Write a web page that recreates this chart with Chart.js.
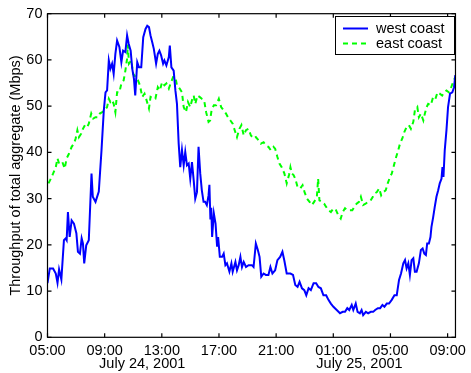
<!DOCTYPE html>
<html>
<head>
<meta charset="utf-8">
<script src="https://cdn.jsdelivr.net/npm/chart.js@4"></script>
<style>
  html, body { margin: 0; padding: 0; background: #fff; }
  #c { display: block; }
</style>
</head>
<body>
<canvas id="c" width="471" height="373"></canvas>
<script>
// Hours elapsed since 05:00 on July 24, 2001
const westHours = [0.00,0.16,0.39,0.58,0.70,0.81,0.97,1.15,1.27,1.34,1.43,1.55,1.69,1.85,2.02,2.13,2.27,2.39,2.48,2.57,2.71,2.89,3.08,3.17,3.36,3.59,3.78,3.94,4.06,4.17,4.29,4.40,4.52,4.63,4.75,4.87,5.03,5.17,5.29,5.45,5.57,5.68,5.82,5.93,6.05,6.14,6.28,6.40,6.56,6.70,6.86,6.98,7.10,7.21,7.33,7.44,7.60,7.72,7.83,7.95,8.09,8.18,8.32,8.49,8.56,8.67,8.83,8.95,9.06,9.18,9.29,9.41,9.53,9.64,9.76,9.88,9.99,10.11,10.23,10.34,10.46,10.57,10.69,10.80,10.92,11.03,11.15,11.27,11.33,11.40,11.46,11.52,11.64,11.76,11.87,11.94,12.06,12.22,12.33,12.45,12.56,12.73,12.87,12.96,13.15,13.26,13.38,13.50,13.61,13.73,13.89,14.07,14.30,14.42,14.58,14.72,14.84,14.96,15.12,15.28,15.46,15.60,15.74,15.93,16.09,16.28,16.44,16.58,16.74,16.86,17.00,17.18,17.34,17.50,17.64,17.81,17.97,18.11,18.27,18.43,18.62,18.80,18.96,19.13,19.31,19.50,19.66,19.83,20.01,20.24,20.47,20.66,20.82,20.98,21.12,21.29,21.40,21.57,21.70,21.86,21.98,22.09,22.28,22.44,22.63,22.79,22.93,23.12,23.28,23.44,23.58,23.74,23.90,24.09,24.28,24.44,24.60,24.74,24.90,25.02,25.13,25.25,25.36,25.48,25.60,25.71,25.83,25.99,26.13,26.25,26.37,26.48,26.57,26.69,26.80,26.87,26.99,27.10,27.22,27.34,27.45,27.57,27.64,27.71,27.80,27.92,28.03,28.17,28.33,28.45,28.54];
const westMbps = [11.7,14.9,14.9,13.8,11.8,14.7,12.5,21,21.4,21,27.1,21.7,25.3,24.6,22.5,18.5,18.1,21.4,20.3,16,19.9,21,35.4,30.4,29.3,31.5,40.5,49.1,53,53.4,59.9,58.1,59.2,57,61.3,64.2,62.8,59.5,62,61.7,65.3,63.5,62,58.1,55.9,52.3,59.5,58.4,58.4,64.9,66.7,67.4,67.1,65.3,63.8,62.4,59.2,61.3,62,61,59.2,59.9,58.8,60.6,63.1,58.4,57.7,53.4,50.5,41.9,36.8,40.5,37.2,40.1,37.2,37.6,34.3,37.9,34,30,31.4,41.2,35.4,31.8,29.3,29.3,28.6,30.7,33,25.5,28,21.7,26.8,24.6,19.6,21.7,17.4,17.4,18.1,15.6,16,14.2,16,14.2,16.3,14.5,15.6,17.4,15.2,16.3,15.2,15.6,15.6,15.2,20.3,18.9,17.4,13.1,13.8,13.5,13.5,15.2,13.8,14.5,16.7,17.4,18.5,16.5,13.8,13.8,13.8,13.5,11.3,10.9,12,10.6,10.2,9.1,10.6,10.2,11.7,11.7,10.9,10.6,9.1,9.1,8.1,7.3,6.6,5.9,5.2,5.5,5.5,6.3,5.9,7,5.9,7.3,5.5,5.2,5.9,4.8,5.5,5.2,5.5,5.5,5.9,6.3,6.3,7,6.6,7.3,7.3,8.1,9.1,9.1,12.4,13.8,16,16.7,14.9,16,13.5,16.7,17.1,14.2,14.2,16,18.9,19.2,18.1,17.8,20.3,20.3,21.7,23.9,26,28.2,30.4,31.8,33.3,34.3,36.8,34.7,40.5,44.8,49.8,52.7,53,54.1,56.7];

const eastHours = [0.07,0.23,0.39,0.58,0.70,0.81,0.93,1.04,1.20,1.34,1.50,1.69,1.85,1.97,2.09,2.20,2.37,2.48,2.62,2.78,2.89,3.06,3.20,3.36,3.52,3.66,3.83,4.01,4.17,4.29,4.40,4.52,4.63,4.75,4.87,5.03,5.17,5.33,5.45,5.57,5.62,5.70,5.86,6.00,6.16,6.33,6.47,6.63,6.79,6.93,7.10,7.21,7.39,7.55,7.72,7.86,8.02,8.18,8.32,8.49,8.65,8.79,8.95,9.06,9.25,9.41,9.53,9.69,9.83,9.99,10.11,10.23,10.34,10.50,10.64,10.80,10.96,11.10,11.27,11.38,11.48,11.64,11.80,11.99,12.15,12.33,12.49,12.63,12.80,12.96,13.10,13.26,13.43,13.57,13.73,13.89,14.07,14.23,14.42,14.58,14.77,14.93,15.12,15.28,15.46,15.62,15.81,15.93,16.09,16.23,16.39,16.58,16.74,16.90,17.00,17.11,17.22,17.34,17.50,17.69,17.85,17.99,18.16,18.34,18.50,18.66,18.85,18.94,19.03,19.20,19.36,19.50,19.66,19.83,20.01,20.19,20.35,20.52,20.66,20.82,20.98,21.17,21.33,21.47,21.63,21.80,21.93,22.09,22.26,22.44,22.61,22.79,22.89,23.05,23.21,23.35,23.51,23.67,23.81,23.97,24.09,24.21,24.37,24.51,24.67,24.83,24.97,25.13,25.29,25.43,25.60,25.71,25.88,25.99,26.13,26.30,26.41,26.53,26.64,26.82,26.99,27.15,27.29,27.45,27.62,27.76,27.92,28.08,28.22,28.38,28.54];
const eastMbps = [33.3,34.3,35.4,36.8,38.7,37.6,37.9,37.9,36.5,38.7,39.7,41.2,41.9,43,44.8,43.3,44.1,45.1,45.9,45.5,46.2,48.4,47.3,47.6,47.6,48.4,48.7,49.1,49.8,51.6,50.9,51.3,50.5,48.7,53,53,54.9,55.6,57.7,60.3,63.3,59.2,59.9,57,56.3,55.6,54.5,52,52.7,51.3,49.5,52,51.6,51.6,54.1,53.4,55.2,54.5,54.9,53.8,55.2,56.3,56.3,54.5,53.8,53,49.8,48.7,50.9,49.8,51.3,52.3,50.5,52.3,52,51.6,51.3,48.7,46.6,46.9,49.1,50.2,50.2,51.6,49.8,49.1,48.4,47.6,46.9,46.2,44.8,43.3,45.1,45.9,43.7,44.8,45.1,43.7,43,43.3,42.6,41.9,42.2,41.5,41.2,40.5,41.2,40.8,39,37.6,36.8,35.4,33.3,35.1,36.8,35.4,35.1,34.3,32.5,32.2,32.9,31.4,30,29.3,28.6,29.3,30.4,34.3,29.6,29.3,28.9,28.2,27.5,27.1,27.9,27.5,26.4,25.7,27.1,27.9,27.5,27.5,27.5,28.2,28.9,29.3,30.4,28.6,28.9,29.3,29.6,30.5,31.1,31.4,32.2,30.7,31.4,31.8,33.3,34.7,35.4,36.8,38.7,40.1,41.9,43,44.4,45.5,45.9,45.1,46.6,49.1,49.8,47.6,48.4,46.9,48.4,49.8,50.5,50.2,52,51.6,53,52.7,52.3,53,53.4,53,53.8,55.2,56.3];

const seriesNames = ['west coast', 'east coast'];
const tickHours = [0, 4, 8, 12, 16, 20, 24, 28];
const tickLabels = ['05:00', '09:00', '13:00', '17:00', '21:00', '01:00', '05:00', '09:00'];
const dayLabels = ['July 24, 2001', 'July 25, 2001'];
const dayLabelHours = [6.63, 21.83];
const yTicks = [0, 10, 20, 30, 40, 50, 60, 70];

const FONT = '"Liberation Sans", Arial, Helvetica, sans-serif';
const FSIZE = 14.5;

function toPoints(xs, ys) { return xs.map((x, i) => ({ x: x, y: ys[i] })); }

// Box frame with inward ticks, date row and legend, drawn on top
const decorations = {
  id: 'decorations',
  afterDraw(chart) {
    const { ctx, chartArea: a, scales } = chart;
    const xs = scales.x, ys = scales.y;
    ctx.save();
    ctx.strokeStyle = '#000';
    ctx.lineWidth = 1.2;
    ctx.strokeRect(a.left, a.top, a.right - a.left, a.bottom - a.top);
    const tl = 4;
    ctx.beginPath();
    tickHours.forEach(v => {
      const px = xs.getPixelForValue(v);
      ctx.moveTo(px, a.bottom); ctx.lineTo(px, a.bottom - tl);
      ctx.moveTo(px, a.top); ctx.lineTo(px, a.top + tl);
    });
    yTicks.forEach(v => {
      const py = ys.getPixelForValue(v);
      ctx.moveTo(a.left, py); ctx.lineTo(a.left + tl, py);
      ctx.moveTo(a.right, py); ctx.lineTo(a.right - tl, py);
    });
    ctx.stroke();

    // second row of x labels: the dates
    ctx.fillStyle = '#000';
    ctx.font = FSIZE + 'px ' + FONT;
    ctx.textAlign = 'center';
    ctx.textBaseline = 'middle';
    dayLabels.forEach((t, i) => {
      ctx.fillText(t, xs.getPixelForValue(dayLabelHours[i]), 364);
    });

    // legend box
    const bx = 335, by = 16, bw = 119, bh = 38;
    ctx.fillStyle = '#fff';
    ctx.fillRect(bx, by, bw, bh);
    ctx.lineWidth = 1;
    ctx.strokeStyle = '#000';
    ctx.strokeRect(bx + 0.5, by + 0.5, bw, bh);
    chart.data.datasets.forEach((ds, i) => {
      const cy = by + 12.5 + i * 15;
      ctx.strokeStyle = ds.borderColor;
      ctx.lineWidth = ds.borderWidth;
      ctx.setLineDash(ds.borderDash || []);
      ctx.beginPath();
      ctx.moveTo(343, cy); ctx.lineTo(368, cy);
      ctx.stroke();
      ctx.setLineDash([]);
      ctx.fillStyle = '#000';
      ctx.textAlign = 'left';
      ctx.fillText(ds.label, 376, cy);
    });
    ctx.restore();
  }
};

new Chart(document.getElementById('c'), {
  type: 'line',
  data: {
    datasets: [
      {
        label: seriesNames[0],
        data: toPoints(westHours, westMbps),
        borderColor: '#0000ff',
        borderWidth: 2,
        pointRadius: 0,
        tension: 0,
        fill: false
      },
      {
        label: seriesNames[1],
        data: toPoints(eastHours, eastMbps),
        borderColor: '#00ff00',
        borderWidth: 2,
        borderDash: [5, 4],
        pointRadius: 0,
        tension: 0,
        fill: false
      }
    ]
  },
  options: {
    responsive: false,
    animation: false,
    devicePixelRatio: 1,
    layout: { padding: { top: 13.3, right: 12.7, left: 0, bottom: 0 } },
    plugins: { legend: { display: false }, tooltip: { enabled: false } },
    scales: {
      x: {
        type: 'linear',
        min: 0,
        max: 28.55,
        grid: { display: false, drawTicks: false },
        border: { display: false },
        afterBuildTicks(scale) { scale.ticks = tickHours.map(v => ({ value: v })); },
        afterFit(scale) { scale.height = 35.7; },
        ticks: {
          autoSkip: false,
          maxRotation: 0,
          padding: 5,
          color: '#000',
          font: { family: FONT, size: FSIZE },
          callback(value) { return tickLabels[tickHours.indexOf(value)]; }
        }
      },
      y: {
        min: 0,
        max: 70,
        grid: { display: false, drawTicks: false },
        border: { display: false },
        afterBuildTicks(scale) { scale.ticks = yTicks.map(v => ({ value: v })); },
        afterFit(scale) { scale.width = 47.5; },
        ticks: {
          padding: 5,
          color: '#000',
          font: { family: FONT, size: FSIZE }
        },
        title: {
          display: true,
          text: 'Throughput of total aggregate (Mbps)',
          color: '#000',
          font: { family: FONT, size: FSIZE },
          padding: { top: 7, bottom: 0 }
        }
      }
    }
  },
  plugins: [decorations]
});
</script>
</body>
</html>
